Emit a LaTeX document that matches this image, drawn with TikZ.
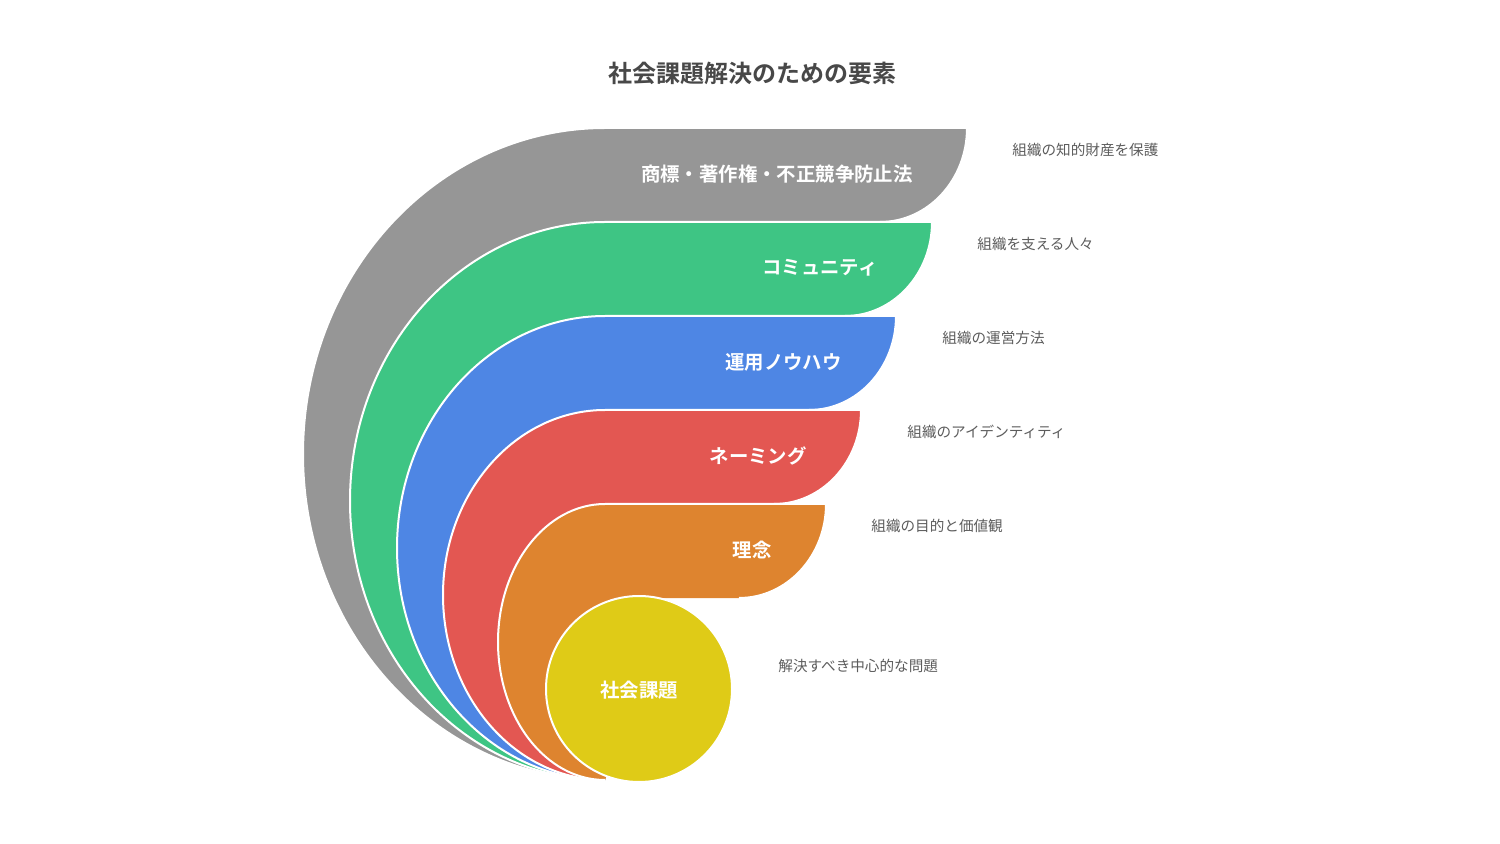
\documentclass[tikz,border=0pt]{standalone}
\usepackage{fontspec}
\setmainfont{Noto Sans CJK JP}[BoldFont={Noto Sans CJK JP Bold}]
\usepackage{tikz}
\definecolor{laygray}{HTML}{969696}
\definecolor{laygreen}{HTML}{3EC584}
\definecolor{layblue}{HTML}{4E86E4}
\definecolor{layred}{HTML}{E35752}
\definecolor{layorange}{HTML}{DE842F}
\definecolor{layyellow}{HTML}{DFCB17}
\definecolor{titlegray}{HTML}{484848}
\definecolor{descgray}{HTML}{5C5C5C}
\tikzset{
  layer/.style={draw=white, line width=1pt},
  lab/.style={text=white, font=\bfseries\fontsize{9.7}{11}\selectfont, anchor=east, inner sep=0pt},
  desc/.style={text=descgray, font=\fontsize{7.3}{9}\selectfont, anchor=west, inner sep=0pt}
}
% #1 colour, #2 x radius, #3 y radius, #4 top, #5 right end, #6 inner corner x
\newcommand{\bandlayer}[6]{%
  \fill [#1] (605, 780) arc [start angle=90, end angle=270, x radius=#2, y radius=#3]
      -- (#5, #4) arc [start angle=0, end angle=90, x radius=87, y radius=94] -- (#6, #4+94) -- (#6, 689) -- cycle;
  \draw [layer] (605, 780) arc [start angle=90, end angle=270, x radius=#2, y radius=#3]
      -- (#5, #4) arc [start angle=0, end angle=90, x radius=87, y radius=94];
}

\begin{document}
\begin{tikzpicture}[x=0.5pt, y=-0.5pt]
         \useasboundingbox (0, 0) rectangle (1500, 844);
         \node (title) at (752, 73) {\textcolor{titlegray}{\bfseries\fontsize{12}{14}\selectfont 社会課題解決のための要素}};
         % layers, outside in
         \bandlayer{laygray}{302}{326}{128}{967}{605}
         \bandlayer{laygreen}{255}{279}{222}{932}{605}
         \bandlayer{layblue}{208}{232}{316}{896}{605}
         \bandlayer{layred}{162}{185}{410}{861}{605}
         \bandlayer{layorange}{107}{138}{504}{826}{639}
         \filldraw [layer, fill=layyellow] (639, 689) circle [radius=93];
         % labels
         \node [lab] (L1) at (913, 174) {商標・著作権・不正競争防止法};
         \node [lab] (L2) at (878, 268) {コミュニティ};
         \node [lab] (L3) at (842, 362) {運用ノウハウ};
         \node [lab] (L4) at (807, 456) {ネーミング};
         \node [lab] (L5) at (772, 550) {理念};
         \node [lab, anchor=center] (L6) at (639, 690) {社会課題};
         % descriptions
         \node [desc] (D1) at (1012, 150) {組織の知的財産を保護};
         \node [desc] (D2) at (977, 244) {組織を支える人々};
         \node [desc] (D3) at (942, 338) {組織の運営方法};
         \node [desc] (D4) at (907, 432) {組織のアイデンティティ};
         \node [desc] (D5) at (871, 526) {組織の目的と価値観};
         \node [desc] (D6) at (778, 666) {解決すべき中心的な問題};
\end{tikzpicture}
\end{document}
